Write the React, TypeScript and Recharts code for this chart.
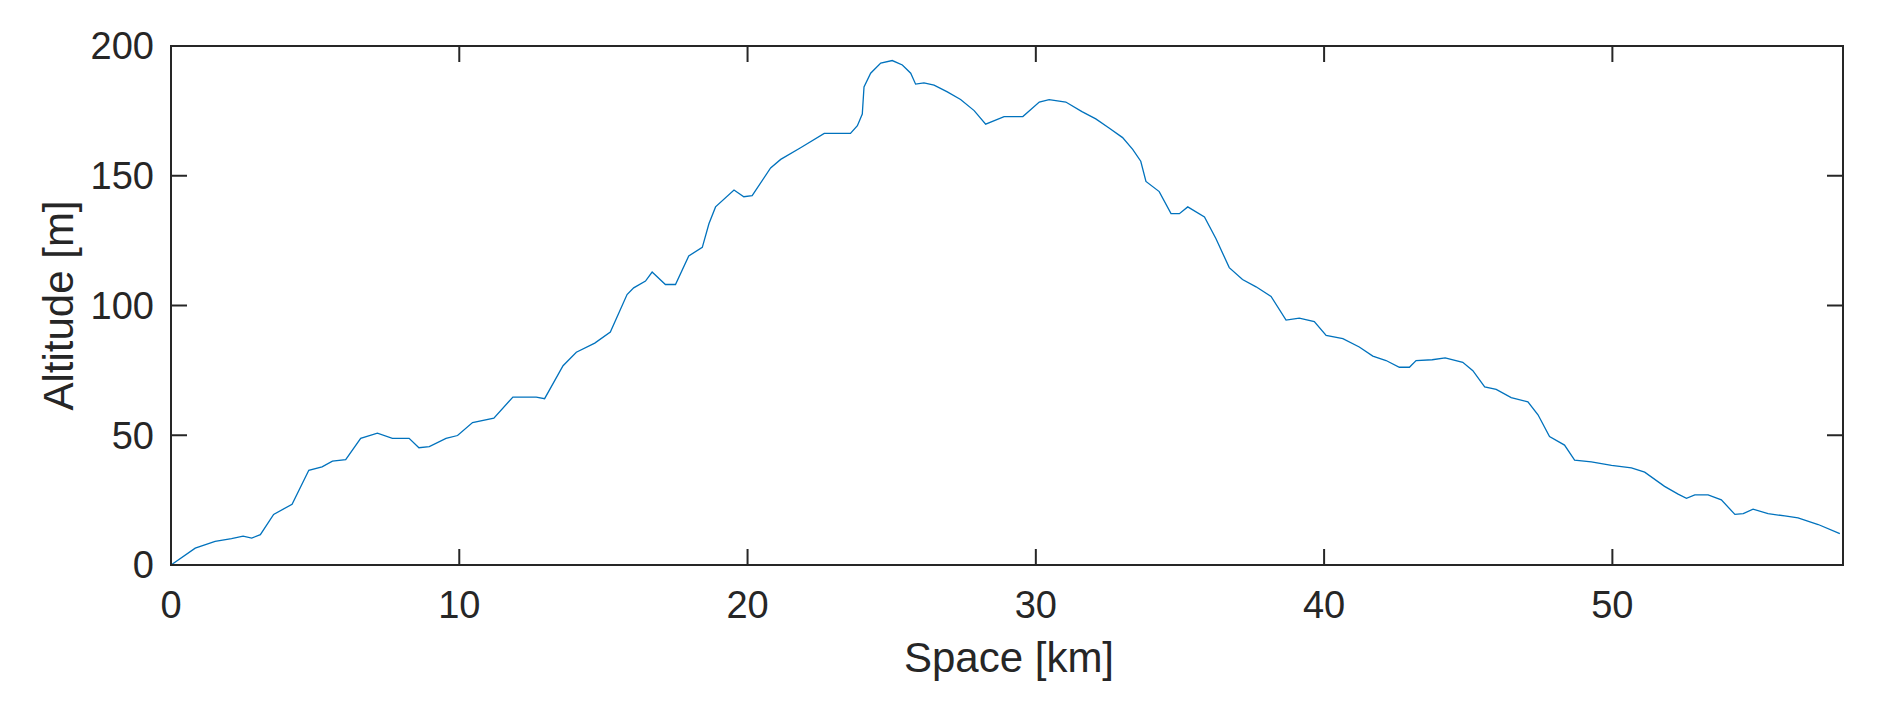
import React from 'react';
import { LineChart, Line, XAxis, YAxis, ReferenceArea, ReferenceLine } from 'recharts';

const distanceKm: number[] = [
  0, 0.84, 1.53, 2.1, 2.5, 2.8, 3.1, 3.56, 4.2, 4.78, 5.24, 5.6, 6.06, 6.58, 7.16, 7.68,
  8.26, 8.6, 8.96, 9.54, 9.94, 10.46, 11.2, 11.86, 12.67, 12.96, 13.6, 14.06, 14.7,
  15.24, 15.82, 16.05, 16.46, 16.69, 17.15, 17.5, 17.96, 18.43, 18.66, 18.89, 19.53,
  19.87, 20.16, 20.8, 21.15, 21.84, 22.66, 23.57, 23.81, 23.98, 24.04, 24.27, 24.62,
  25.02, 25.37, 25.66, 25.83, 26.12, 26.47, 26.93, 27.39, 27.86, 28.26, 28.9, 29.55,
  30.12, 30.46, 31.04, 31.6, 32.08, 32.54, 33.01, 33.36, 33.64, 33.82, 34.28, 34.69,
  34.98, 35.27, 35.85, 36.25, 36.71, 37.17, 37.64, 38.16, 38.68, 39.14, 39.66, 40.07,
  40.65, 41.22, 41.69, 42.15, 42.61, 42.96, 43.19, 43.75, 44.2, 44.81, 45.16, 45.57,
  45.97, 46.49, 47.07, 47.42, 47.82, 48.34, 48.69, 49.27, 49.97, 50.66, 51.12, 51.81,
  52.28, 52.57, 52.86, 53.32, 53.78, 54.25, 54.54, 54.88, 55.4, 55.98, 56.44, 57.14, 57.89,
];

const altitudeM: number[] = [
  0, 6.5, 9.1, 10.2, 11.1, 10.4, 11.7, 19.5, 23.4, 36.5, 37.8, 40, 40.6, 48.8, 50.8, 48.8,
  48.8, 45.2, 45.6, 48.8, 49.9, 54.9, 56.6, 64.7, 64.7, 64.1, 76.8, 82, 85.5,
  89.8, 104.2, 106.8, 109.4, 112.9, 108.1, 108.1, 119.1, 122.4, 131.5, 138, 144.5,
  141.9, 142.3, 153, 156.3, 160.8, 166.3, 166.3, 169.3, 173.8, 184.2, 189.5, 193.4,
  194.4, 192.7, 189.5, 185.3, 185.8, 184.9, 182.3, 179.4, 175.1, 169.9, 172.8, 172.8,
  178.4, 179.3, 178.4, 174.7, 171.9, 168.4, 164.7, 160.2, 155.6, 147.8, 143.9, 135.4,
  135.4, 138, 134.1, 125.7, 114.6, 110, 107.2, 103.5, 94.4, 95.1, 93.8, 88.5,
  87.2, 84, 80.5, 78.8, 76.2, 76.2, 78.8, 79.1, 79.8, 78.1, 74.9, 68.6,
  67.7, 64.5, 62.9, 57.9, 49.5, 46.2, 40.4, 39.7, 38.4, 37.4, 35.8, 30.3,
  27.3, 25.7, 27, 27, 25.1, 19.5, 19.8, 21.5, 19.8, 18.9, 18.2, 15.6, 12.1,
];

const xTicks: number[] = [0, 10, 20, 30, 40, 50];
const yTicks: number[] = [0, 50, 100, 150, 200];
const xDomain: [number, number] = [0, 58];
const yDomain: [number, number] = [0, 200];
const xLabel = 'Space [km]';
const yLabel = 'Altitude [m]';

const data = distanceKm.map((d, i) => ({ x: d, alt: altitudeM[i] }));

const FONT = '"Liberation Sans", Arial, Helvetica, sans-serif';
const INK = '#262626';
const LINE = '#0072BD';
const TICK_FS = 38;
const LABEL_FS = 42;
const TICK_LEN = 16;

const axisLineStyle = { stroke: INK, strokeWidth: 2 };

const XLabel = (props: any) => {
  const vb = props.viewBox || {};
  return (
    <text
      x={vb.x + vb.width / 2 + 2}
      y={vb.y + 107}
      textAnchor="middle"
      fontSize={LABEL_FS}
      fontFamily={FONT}
      fill={INK}
    >
      {xLabel}
    </text>
  );
};

const YLabel = (props: any) => {
  const vb = props.viewBox || {};
  const cx = vb.x + vb.width - 98;
  const cy = vb.y + vb.height / 2;
  return (
    <text
      x={cx}
      y={cy}
      transform={`rotate(-90, ${cx}, ${cy})`}
      textAnchor="middle"
      fontSize={LABEL_FS}
      fontFamily={FONT}
      fill={INK}
    >
      {yLabel}
    </text>
  );
};

// Inward tick marks at both ends of a vertical reference line (bottom & top axes)
const VTicks = (p: any) => {
  const top = Math.min(p.y1, p.y2);
  const bot = Math.max(p.y1, p.y2);
  return (
    <g>
      <line x1={p.x1} x2={p.x1} y1={bot} y2={bot - TICK_LEN} stroke={INK} strokeWidth={2} />
      <line x1={p.x1} x2={p.x1} y1={top} y2={top + TICK_LEN} stroke={INK} strokeWidth={2} />
    </g>
  );
};

// Inward tick marks at both ends of a horizontal reference line (left & right axes)
const HTicks = (p: any) => {
  const left = Math.min(p.x1, p.x2);
  const right = Math.max(p.x1, p.x2);
  return (
    <g>
      <line y1={p.y1} y2={p.y1} x1={left} x2={left + TICK_LEN} stroke={INK} strokeWidth={2} />
      <line y1={p.y1} y2={p.y1} x1={right} x2={right - TICK_LEN} stroke={INK} strokeWidth={2} />
    </g>
  );
};

export default function App() {
  return (
    <div style={{ position: 'absolute', left: 0, top: 0, width: 1877, height: 716, background: '#fff' }}>
      <LineChart
        width={1877}
        height={716}
        data={data}
        margin={{ top: 46, right: 34, bottom: 91, left: 91 }}
      >
        <XAxis
          dataKey="x"
          type="number"
          domain={xDomain}
          ticks={xTicks}
          allowDataOverflow
          height={60}
          tickSize={0}
          tickMargin={26}
          axisLine={axisLineStyle}
          tickLine={false}
          tick={{ fontSize: TICK_FS, fill: INK, fontFamily: FONT }}
          label={XLabel}
        />
        <YAxis
          type="number"
          domain={yDomain}
          ticks={yTicks}
          allowDataOverflow
          width={80}
          tickSize={0}
          tickMargin={17}
          axisLine={axisLineStyle}
          tickLine={false}
          tick={{ fontSize: TICK_FS, fill: INK, fontFamily: FONT }}
          label={YLabel}
        />
        <ReferenceArea
          x1={xDomain[0]}
          x2={xDomain[1]}
          y1={yDomain[0]}
          y2={yDomain[1]}
          fill="none"
          fillOpacity={0}
          stroke={INK}
          strokeWidth={2}
          ifOverflow="visible"
        />
        {xTicks.map((t) => (
          <ReferenceLine key={`xt${t}`} x={t} shape={VTicks} ifOverflow="visible" />
        ))}
        {yTicks.map((t) => (
          <ReferenceLine key={`yt${t}`} y={t} shape={HTicks} ifOverflow="visible" />
        ))}
        <Line
          type="linear"
          dataKey="alt"
          stroke={LINE}
          strokeWidth={1.3}
          dot={false}
          activeDot={false}
          isAnimationActive={false}
        />
      </LineChart>
    </div>
  );
}
